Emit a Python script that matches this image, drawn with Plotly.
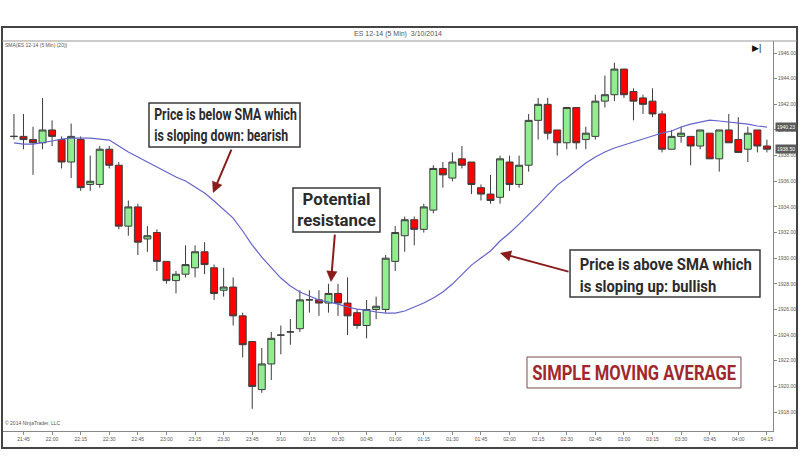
import json
import plotly.graph_objects as go

# ---- data (ES 12-14, 5 Min) ----
opens = [1939.5, 1939.5, 1939.25, 1939.0, 1940.0, 1939.25, 1937.5, 1939.25, 1935.75, 1935.75,
         1938.5, 1937.25, 1932.5, 1934.0, 1931.5, 1932.0, 1929.75, 1928.25, 1928.75, 1929.25,
         1930.5, 1929.25, 1927.5, 1927.75, 1925.5, 1923.5, 1919.75, 1921.75, 1924.0, 1924.25,
         1924.5, 1926.75, 1926.75, 1926.5, 1927.25, 1926.5, 1925.75, 1924.75, 1926.0, 1926.0,
         1929.75, 1931.75, 1933.0, 1932.25, 1933.75, 1937.0, 1936.25, 1937.75, 1937.5, 1935.5,
         1935.0, 1934.75, 1937.5, 1935.75, 1937.25, 1940.75, 1942.0, 1940.0, 1939.0, 1941.75,
         1939.25, 1939.5, 1942.25, 1942.75, 1944.75, 1943.0, 1942.5, 1942.25, 1941.25, 1938.5,
         1939.5, 1939.5, 1938.75, 1939.75, 1937.75, 1940.0, 1939.25, 1938.5, 1940.0, 1938.75]
highs = [1941.25, 1941.25, 1940.25, 1942.5, 1940.75, 1939.5, 1940.5, 1939.5, 1938.0, 1938.75,
         1938.75, 1937.5, 1934.5, 1934.25, 1932.5, 1932.25, 1929.75, 1929.0, 1931.0, 1931.0,
         1931.25, 1929.5, 1929.25, 1928.5, 1925.75, 1923.5, 1923.0, 1924.25, 1924.75, 1925.25,
         1927.5, 1927.5, 1927.5, 1928.0, 1928.0, 1928.5, 1926.0, 1926.75, 1927.0, 1930.25,
         1932.5, 1933.25, 1933.25, 1934.25, 1937.25, 1937.5, 1938.25, 1938.75, 1937.5, 1935.75,
         1936.5, 1938.0, 1938.0, 1938.0, 1941.25, 1942.5, 1942.5, 1940.0, 1941.75, 1941.75,
         1940.25, 1942.75, 1944.25, 1945.25, 1944.75, 1943.25, 1942.75, 1943.25, 1941.5, 1940.0,
         1940.25, 1939.5, 1940.0, 1939.75, 1940.0, 1941.25, 1941.0, 1940.25, 1940.0, 1939.25]
lows = [1939.25, 1938.5, 1936.5, 1938.5, 1938.75, 1937.0, 1936.25, 1935.25, 1935.25, 1935.5,
        1937.0, 1932.25, 1931.75, 1930.25, 1930.5, 1929.0, 1928.0, 1927.25, 1928.5, 1928.5,
        1928.75, 1926.75, 1927.0, 1924.75, 1922.25, 1918.25, 1919.5, 1920.5, 1922.5, 1923.25,
        1924.25, 1925.75, 1925.5, 1925.75, 1925.5, 1924.0, 1924.5, 1923.75, 1925.25, 1925.75,
        1929.0, 1930.5, 1931.0, 1932.0, 1933.5, 1935.5, 1936.0, 1937.0, 1935.0, 1934.5,
        1934.25, 1934.25, 1935.25, 1935.5, 1936.75, 1939.25, 1939.25, 1938.0, 1938.5, 1938.5,
        1938.5, 1939.25, 1941.75, 1942.25, 1942.5, 1940.75, 1941.25, 1941.0, 1938.25, 1938.5,
        1939.0, 1937.25, 1938.5, 1937.75, 1936.75, 1939.0, 1938.25, 1937.5, 1938.25, 1938.25]
closes = [1939.5, 1939.25, 1939.0, 1940.0, 1939.5, 1937.5, 1939.5, 1935.5, 1936.0, 1938.5,
          1937.25, 1932.5, 1934.0, 1931.25, 1931.75, 1929.75, 1928.25, 1928.75, 1929.5, 1930.5,
          1929.5, 1927.25, 1927.75, 1925.5, 1923.25, 1920.0, 1921.75, 1923.75, 1924.0, 1924.25,
          1926.75, 1926.75, 1926.5, 1927.25, 1926.5, 1925.5, 1924.75, 1926.0, 1926.25, 1930.0,
          1932.0, 1933.0, 1932.25, 1934.0, 1937.0, 1936.5, 1937.5, 1937.25, 1935.75, 1935.0,
          1934.5, 1937.75, 1935.75, 1937.25, 1940.75, 1942.0, 1939.75, 1939.0, 1941.75, 1939.0,
          1939.75, 1942.25, 1942.75, 1944.75, 1942.75, 1942.25, 1942.0, 1941.25, 1938.5, 1939.5,
          1939.75, 1938.75, 1940.0, 1937.75, 1940.0, 1939.0, 1938.25, 1939.75, 1938.75, 1938.5]
sma20 = [1939.0, 1938.9, 1938.9, 1939.0, 1939.14, 1939.29, 1939.37, 1939.37, 1939.37, 1939.29,
         1939.21, 1938.75, 1938.28, 1937.89, 1937.5, 1937.11, 1936.72, 1936.33, 1936.02, 1935.55,
         1935.08, 1934.46, 1933.83, 1933.13, 1932.12, 1931.02, 1930.09, 1929.23, 1928.45, 1927.83,
         1927.36, 1927.05, 1926.73, 1926.58, 1926.42, 1926.19, 1926.03, 1925.95, 1925.8, 1925.72,
         1925.72, 1925.88, 1926.19, 1926.5, 1926.89, 1927.36, 1927.98, 1928.68, 1929.46, 1930.01,
         1930.56, 1931.34, 1931.96, 1932.66, 1933.36, 1934.14, 1934.92, 1935.7, 1936.25, 1936.8,
         1937.42, 1937.89, 1938.28, 1938.59, 1938.82, 1939.06, 1939.29, 1939.53, 1939.76, 1939.92,
         1940.23, 1940.46, 1940.62, 1940.77, 1940.7, 1940.62, 1940.54, 1940.46, 1940.31, 1940.23]
tick_labels = ["21:45", "22:00", "22:15", "22:30", "22:45", "23:00", "23:15", "23:30", "23:45",
               "3/10", "00:15", "00:30", "00:45", "01:00", "01:15", "01:30", "01:45", "02:00",
               "02:15", "02:30", "02:45", "03:00", "03:15", "03:30", "03:45", "04:00", "04:15"]

bar_index = list(range(len(closes)))
tick_pos = list(range(1, len(closes), 3))  # one label every 15 minutes (3 bars)

CALLOUT = "Roboto, Liberation Sans, sans-serif"
SMALL = "Liberation Sans, Arial, sans-serif"
ARROW = "#8b1c1c"
INK = "#2b2b2b"

fig = go.Figure()
fig.add_trace(go.Candlestick(
    x=bar_index, open=opens, high=highs, low=lows, close=closes,
    increasing=dict(fillcolor="#90EE90", line=dict(color="#3c3c3c", width=1)),
    decreasing=dict(fillcolor="#FF0000", line=dict(color="#3c3c3c", width=1)),
    whiskerwidth=0, showlegend=False, hoverinfo="skip"))
fig.add_trace(go.Scatter(
    x=bar_index, y=sma20, mode="lines",
    line=dict(color="#6363cc", width=1.2), showlegend=False, hoverinfo="skip"))

annotations = [
    dict(xref="paper", yref="paper", x=0.513, y=1.018, yanchor="middle",
         text="ES 12-14 (5 Min)  3/10/2014", showarrow=False,
         font=dict(family=SMALL, size=7, color="#555")),
    dict(xref="paper", yref="paper", x=0.0, y=0.9897, xanchor="left", yanchor="middle",
         text="SMA(ES 12-14 (5 Min) (20))", showarrow=False,
         font=dict(family=SMALL, size=5, color="#555")),
    dict(xref="paper", yref="paper", x=0.0, y=0.0077, xanchor="left", yanchor="bottom",
         text="© 2014 NinjaTrader, LLC", showarrow=False,
         font=dict(family=SMALL, size=5, color="#555")),
    dict(xref="paper", yref="paper", x=0.987, y=0.982, yanchor="middle", text="▶|",
         showarrow=False, font=dict(family=SMALL, size=9, color="#111")),
    # last values on the price axis
    dict(xref="paper", yref="y", x=1.003, y=sma20[-1], xanchor="left", yanchor="middle",
         text=f"{sma20[-1]:.2f}", showarrow=False, bgcolor="#5a5a5a", borderpad=1,
         font=dict(family=SMALL, size=5, color="#fff")),
    dict(xref="paper", yref="y", x=1.003, y=closes[-1], xanchor="left", yanchor="middle",
         text=f"{closes[-1]:.2f}", showarrow=False, bgcolor="#5a5a5a", borderpad=1,
         font=dict(family=SMALL, size=5, color="#fff")),
    # callout texts (boxes are shapes below)
    dict(xref="paper", yref="paper", x=0.2890, y=0.7846, xanchor="center", yanchor="middle",
         text="Price is below SMA which<br>is sloping down: bearish", showarrow=False,
         align="left", font=dict(family=CALLOUT, size=16, color=INK, weight="bold")),
    dict(xref="paper", yref="paper", x=0.4325, y=0.5667, xanchor="center", yanchor="middle",
         text="Potential<br>resistance", showarrow=False,
         align="center", font=dict(family=CALLOUT, size=16, color=INK, weight="bold")),
    dict(xref="paper", yref="paper", x=0.8610, y=0.4000, xanchor="center", yanchor="middle",
         text="Price is above SMA which<br>is sloping up: bullish", showarrow=False,
         align="left", font=dict(family=CALLOUT, size=17, color=INK, weight="bold")),
    dict(xref="paper", yref="paper", x=0.8195, y=0.1500, xanchor="center", yanchor="middle",
         text="SIMPLE MOVING AVERAGE", showarrow=False,
         align="center", font=dict(family=CALLOUT, size=20, color="#a0282d", weight="bold")),
    # arrows
    dict(xref="x", yref="y", x=20.88, y=1935.08, axref="x", ayref="y", ax=22.88, ay=1938.59,
         text="", showarrow=True, arrowhead=2, arrowsize=1.1, arrowwidth=2, arrowcolor=ARROW),
    dict(xref="x", yref="y", x=33.26, y=1928.14, axref="x", ayref="y", ax=33.68, ay=1931.96,
         text="", showarrow=True, arrowhead=2, arrowsize=1.1, arrowwidth=2, arrowcolor=ARROW),
    dict(xref="x", yref="y", x=51.0, y=1930.4, axref="x", ayref="y", ax=58.34, ay=1928.92,
         text="", showarrow=True, arrowhead=2, arrowsize=1.1, arrowwidth=2, arrowcolor=ARROW),
]

box_line = dict(color="#3a3a3a", width=1.5)
shapes = [
    dict(type="rect", xref="paper", yref="paper", x0=-0.0013, x1=1.0312, y0=-0.0436, y1=1.0359,
         line=dict(color="#444", width=2)),
    dict(type="line", xref="paper", yref="paper", x0=-0.0013, x1=1.0312, y0=1.0, y1=1.0,
         line=dict(color="#999", width=1)),
    dict(type="rect", xref="paper", yref="paper", x0=0.1896, x1=0.3857, y0=0.7282, y1=0.8410,
         line=box_line, fillcolor="white", layer="above"),
    dict(type="rect", xref="paper", yref="paper", x0=0.3766, x1=0.4896, y0=0.5103, y1=0.6231,
         line=box_line, fillcolor="white", layer="above"),
    dict(type="rect", xref="paper", yref="paper", x0=0.7364, x1=0.9831, y0=0.3436, y1=0.4641,
         line=box_line, fillcolor="white", layer="above"),
    dict(type="rect", xref="paper", yref="paper", x0=0.6805, x1=0.9584, y0=0.1103, y1=0.1897,
         line=dict(color="#7a4a4a", width=1), fillcolor="white", layer="above"),
]

fig.update_layout(
    width=800, height=475,
    margin=dict(l=3, r=27, t=41, b=44),
    paper_bgcolor="white", plot_bgcolor="white",
    showlegend=False, boxgap=0.27, boxgroupgap=0.0,
    annotations=annotations, shapes=shapes,
    xaxis=dict(range=[-1.15, 79.64], tickvals=tick_pos, ticktext=tick_labels,
               showgrid=False, zeroline=False, showline=True, linecolor="#888", linewidth=1,
               ticks="outside", ticklen=3, tickcolor="#888",
               tickfont=dict(family=SMALL, size=5, color="#555"),
               rangeslider=dict(visible=False)),
    yaxis=dict(side="right", range=[1916.52, 1946.94], tick0=1918, dtick=2, tickformat=".2f",
               showgrid=False, zeroline=False, showline=True, linecolor="#888", linewidth=1,
               ticks="outside", ticklen=3, tickcolor="#888",
               tickfont=dict(family=SMALL, size=5, color="#555")),
)

# narrow the callout lettering horizontally to the widths seen in the reference
text_widths = {"Price is below": 143, "Potential": 79, "Price is above": 172, "SIMPLE": 204}
post = """
document.body.style.margin = '0';
document.body.style.padding = '0';
var gd = document.getElementById('{plot_id}');
var targets = %s;
function squeeze() {
  gd.querySelectorAll('text.annotation-text').forEach(function (t) {
    var s = t.getAttribute('data-unformatted') || t.textContent || '';
    for (var k in targets) {
      if (s.indexOf(k) === 0) {
        var w = t.getBBox().width;
        if (w > 0) {
          t.style.transformBox = 'fill-box';
          t.style.transformOrigin = 'center';
          t.style.transform = 'scaleX(' + (targets[k] / w) + ')';
        }
      }
    }
  });
}
squeeze();
if (gd.on) { gd.on('plotly_afterplot', squeeze); }
""" % json.dumps(text_widths)

fig.write_html("out.html", post_script=post, config={"displayModeBar": False})
